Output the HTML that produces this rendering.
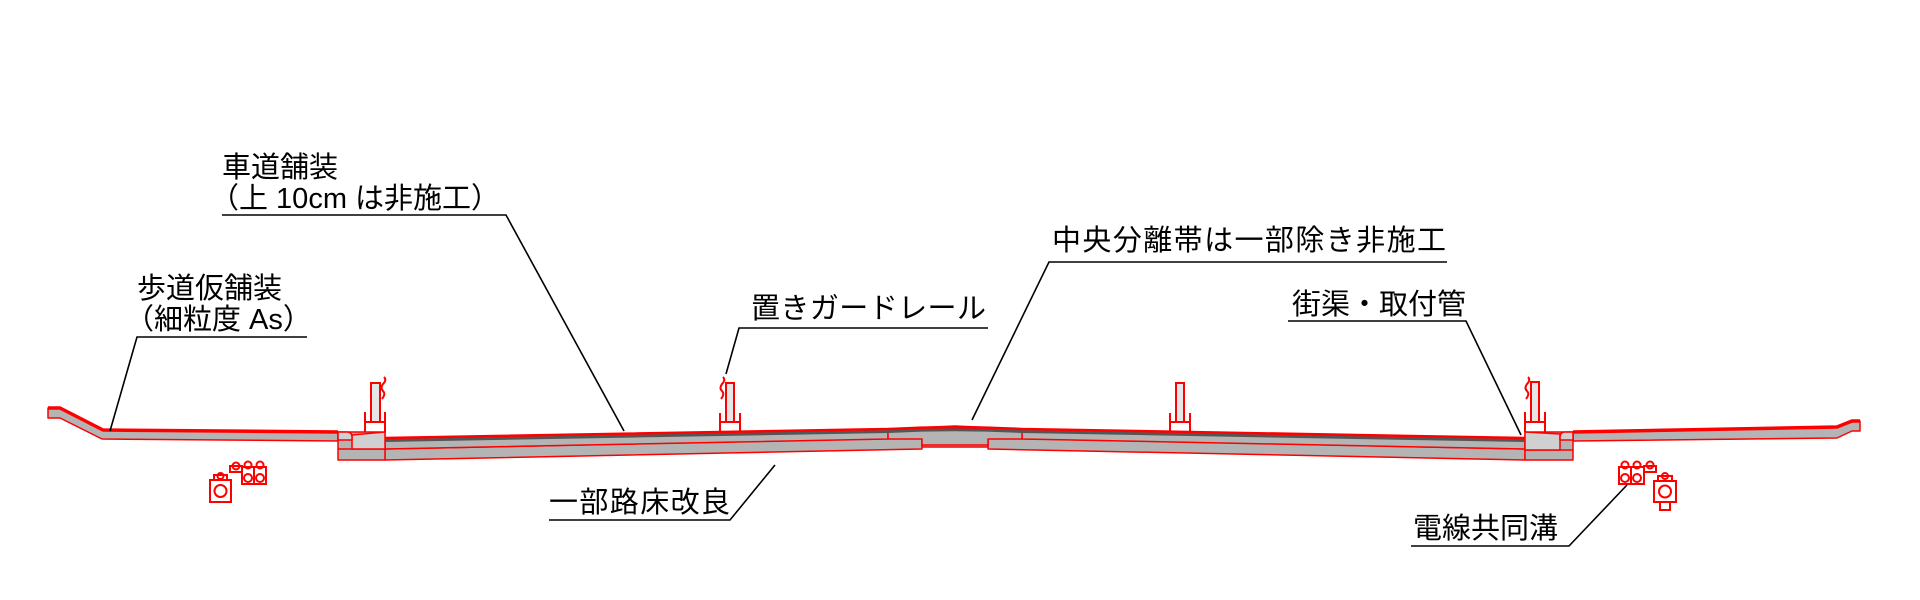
<!DOCTYPE html>
<html><head><meta charset="utf-8"><style>
html,body{margin:0;padding:0;background:#fff;}
svg{display:block;}
text{font-family:"Liberation Sans","Noto Sans CJK JP",sans-serif;font-size:29px;fill:#000;}
</style></head><body>
<svg width="1920" height="600" viewBox="0 0 1920 600" xmlns="http://www.w3.org/2000/svg">
<g stroke="#ff0000" stroke-width="1.5" fill="#b4b4b4" stroke-linejoin="round">
<polygon points="48,408 60,408 103,430 338,432 338,441 102,439 60,418 48,418"/>
<polyline points="48,408 60,408 103,430 338,432" fill="none" stroke-width="3.5"/>
<polygon points="1860,421 1852,421 1837,427 1573,432 1573,441 1837,438 1852,431 1860,431"/>
<polyline points="1860,421 1852,421 1837,427 1573,432" fill="none" stroke-width="3.5"/>
<polygon points="385,449 922,438 922,449 385,460"/>
<polygon points="385,438 888,429 888,439 385,449"/>
<polygon points="1525,449 988,438 988,449 1525,460"/>
<polygon points="1525,438 1022,429 1022,439 1525,449"/>
<polygon points="888,429 955,426 1022,429 1022,439 988,439 988,447 922,447 922,439 888,439"/>
<line x1="922" y1="445" x2="988" y2="445"/>
<path d="M385,440.5 L888,431.5 Q955,428 1022,431.5 L1525,440.5" fill="none" stroke="#555" stroke-width="3"/>
<path d="M385,438 L888,429 Q955,425.5 1022,429 L1525,438" fill="none" stroke-width="2.5"/>
<rect x="338" y="432" width="47" height="28"/>
<line x1="338" y1="449" x2="385" y2="449"/>
<polygon points="352,435 385,432 385,449 352,449" fill="#d0d0d0"/>
<path d="M338,440 L338,432 L347,432 Q352,432 352,437 L352,440 Z" fill="#d0d0d0"/>
<rect x="1525" y="432" width="48" height="28"/>
<line x1="1525" y1="450" x2="1573" y2="450"/>
<polygon points="1525,432 1560,434 1560,450 1525,450" fill="#d0d0d0"/>
<path d="M1573,440 L1573,432 L1565,432 Q1560,432 1560,437 L1560,440 Z" fill="#d0d0d0"/>
</g>
<g stroke="#ff0000" stroke-width="2" fill="#e6e6e6">
<rect x="371" y="383" width="9" height="39"/>
<line x1="365" y1="412" x2="365" y2="432"/><line x1="385" y1="412" x2="385" y2="432"/>
<line x1="365" y1="422" x2="385" y2="422"/>
<path d="M384,377 q3,3 -1,7 q-3,4 0,7 q3,3 -1,8" fill="none"/>
<rect x="726" y="383" width="8" height="39"/>
<line x1="720" y1="413" x2="720" y2="432"/><line x1="740" y1="413" x2="740" y2="432"/>
<line x1="720" y1="422" x2="740" y2="422"/>
<path d="M723,377 q3,3 -1,7 q-3,4 0,7 q3,3 -1,8" fill="none"/>
<rect x="1176" y="383" width="8" height="39"/>
<line x1="1170" y1="413" x2="1170" y2="431"/><line x1="1190" y1="413" x2="1190" y2="431"/>
<line x1="1170" y1="422" x2="1190" y2="422"/>
<rect x="1531" y="382" width="8" height="40"/>
<line x1="1525" y1="412" x2="1525" y2="432"/><line x1="1545" y1="412" x2="1545" y2="432"/>
<line x1="1525" y1="422" x2="1545" y2="422"/>
<path d="M1528,377 q3,3 -1,7 q-3,4 0,7 q3,3 -1,8" fill="none"/>
</g>
<g stroke="#ff0000" stroke-width="2" fill="none">
<rect x="210" y="480" width="21" height="22"/><circle cx="220.5" cy="491" r="6"/>
<rect x="214" y="475" width="13" height="5"/><circle cx="220.5" cy="476" r="3"/>
<rect x="242" y="467" width="24" height="17"/><line x1="254" y1="467" x2="254" y2="484"/>
<circle cx="248" cy="478" r="4"/><circle cx="260" cy="478" r="4"/>
<rect x="230" y="466" width="12" height="6"/>
<circle cx="236" cy="466" r="3.5"/><circle cx="248" cy="465" r="3.5"/><circle cx="260" cy="465" r="3.5"/>
<rect x="1619" y="467" width="25" height="17"/><line x1="1631" y1="467" x2="1631" y2="484"/>
<circle cx="1625" cy="478" r="4"/><circle cx="1637" cy="478" r="4"/>
<rect x="1644" y="466" width="12" height="6"/>
<circle cx="1625" cy="465" r="3.5"/><circle cx="1637" cy="465" r="3.5"/><circle cx="1650" cy="465" r="3.5"/>
<rect x="1654" y="481" width="22" height="21"/><circle cx="1665" cy="491.5" r="6"/>
<rect x="1658" y="476" width="14" height="5"/><circle cx="1665" cy="476" r="3"/>
<rect x="1660" y="502" width="10" height="8"/>
</g>
<g stroke="#000" stroke-width="1.6" fill="none">
<polyline points="222,215 506,215 624,431"/>
<polyline points="307,337 137,337 110,431"/>
<polyline points="988,328 739,328 726,374"/>
<polyline points="1447,262 1049,262 972,420"/>
<polyline points="1288,321 1466,321 1521,435"/>
<polyline points="549,520 730,520 775,465"/>
<polyline points="1411,546 1569,546 1627,485"/>
</g>
<text x="222" y="177">車道舗装</text>
<text x="210" y="208">（上 10cm は非施工）</text>
<text x="137" y="298">歩道仮舗装</text>
<text x="125" y="329">（細粒度 As）</text>
<text x="751" y="318" textLength="235">置きガードレール</text>
<text x="1052" y="250" textLength="394">中央分離帯は一部除き非施工</text>
<text x="1292" y="314">街渠・取付管</text>
<text x="549" y="512" textLength="181">一部路床改良</text>
<text x="1413" y="538">電線共同溝</text>
</svg>
</body></html>
